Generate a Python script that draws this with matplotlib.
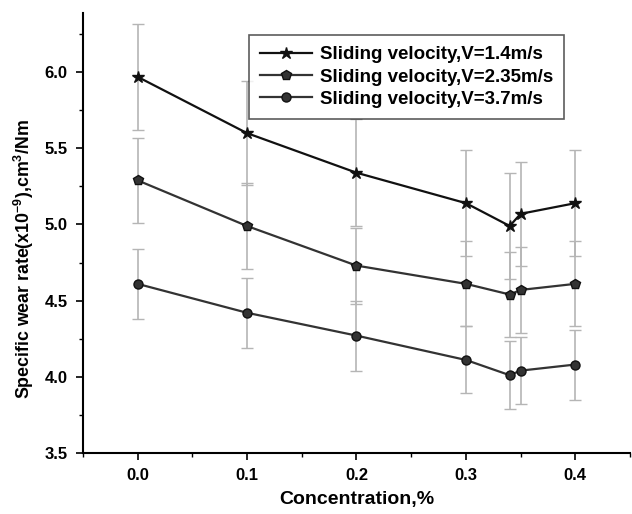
import numpy as np
import matplotlib
matplotlib.use('Agg')
import matplotlib.pyplot as plt
from matplotlib.ticker import MultipleLocator

plt.rcParams['font.family'] = ['Liberation Sans', 'DejaVu Sans']
plt.rcParams['font.weight'] = 'bold'
plt.rcParams['mathtext.fontset'] = 'custom'
plt.rcParams['mathtext.bf'] = 'Liberation Sans:bold'
plt.rcParams['mathtext.rm'] = 'Liberation Sans:bold'
plt.rcParams['mathtext.default'] = 'bf'

conc = [0.0, 0.1, 0.2, 0.3, 0.34, 0.35, 0.4]
wear_14 = [5.97, 5.60, 5.34, 5.14, 4.99, 5.07, 5.14]
wear_235 = [5.29, 4.99, 4.73, 4.61, 4.54, 4.57, 4.61]
wear_37 = [4.61, 4.42, 4.27, 4.11, 4.01, 4.04, 4.08]
err_14 = [0.35, 0.34, 0.35, 0.35, 0.35, 0.34, 0.35]
err_235 = [0.28, 0.28, 0.25, 0.28, 0.28, 0.28, 0.28]
err_37 = [0.23, 0.23, 0.23, 0.22, 0.225, 0.22, 0.23]
labels = ['Sliding velocity,V=1.4m/s', 'Sliding velocity,V=2.35m/s',
          'Sliding velocity,V=3.7m/s']

fig = plt.figure(figsize=(6.32, 5.14), dpi=100)
ax = fig.add_axes([0.131, 0.119, 0.866, 0.856])

series = [(wear_14, err_14, '*', 9, '#111111'),
          (wear_235, err_235, 'p', 7.5, '#333333'),
          (wear_37, err_37, 'o', 6.5, '#333333')]
for (y, e, m, ms, c), lab in zip(series, labels):
    ax.errorbar(conc, y, yerr=e, fmt='none', ecolor='#b5b5b5', elinewidth=1.2,
                capsize=4, capthick=1.0, zorder=1)
    ax.plot(conc, y, marker=m, markersize=ms, color=c, lw=1.6, label=lab,
            markeredgecolor='#111111', zorder=3)

ax.set_xlim(-0.05, 0.45)
ax.set_ylim(3.5, 6.39)
ax.xaxis.set_minor_locator(MultipleLocator(0.05))
ax.yaxis.set_major_locator(MultipleLocator(0.5))
ax.yaxis.set_minor_locator(MultipleLocator(0.25))
ax.set_xticks([0.0, 0.1, 0.2, 0.3, 0.4])
ax.set_xticklabels(['0.0', '0.1', '0.2', '0.3', '0.4'])
ax.tick_params(which='major', direction='out', length=5, width=1.2,
               labelsize=12, pad=6)
ax.tick_params(which='minor', direction='out', length=3, width=1.0)
for s in ['top', 'right']:
    ax.spines[s].set_visible(False)
for s in ['left', 'bottom']:
    ax.spines[s].set_linewidth(1.5)

ax.set_xlabel('Concentration,%', fontsize=14, fontweight='bold', labelpad=6)
ax.set_ylabel('Specific wear rate(x10$^{-9}$),cm$^{3}$/Nm', fontsize=12.8,
              fontweight='bold')
ax.yaxis.set_label_coords(-0.085, 0.44)

leg = ax.legend(loc='upper left', bbox_to_anchor=(0.303, 0.95), fontsize=13.5,
                frameon=True, fancybox=False, edgecolor='#333333',
                handlelength=2.8, handletextpad=0.4, borderpad=0.6,
                labelspacing=0.28, borderaxespad=0)
leg.get_frame().set_linewidth(1.2)

fig.savefig('out.png', dpi=100)
